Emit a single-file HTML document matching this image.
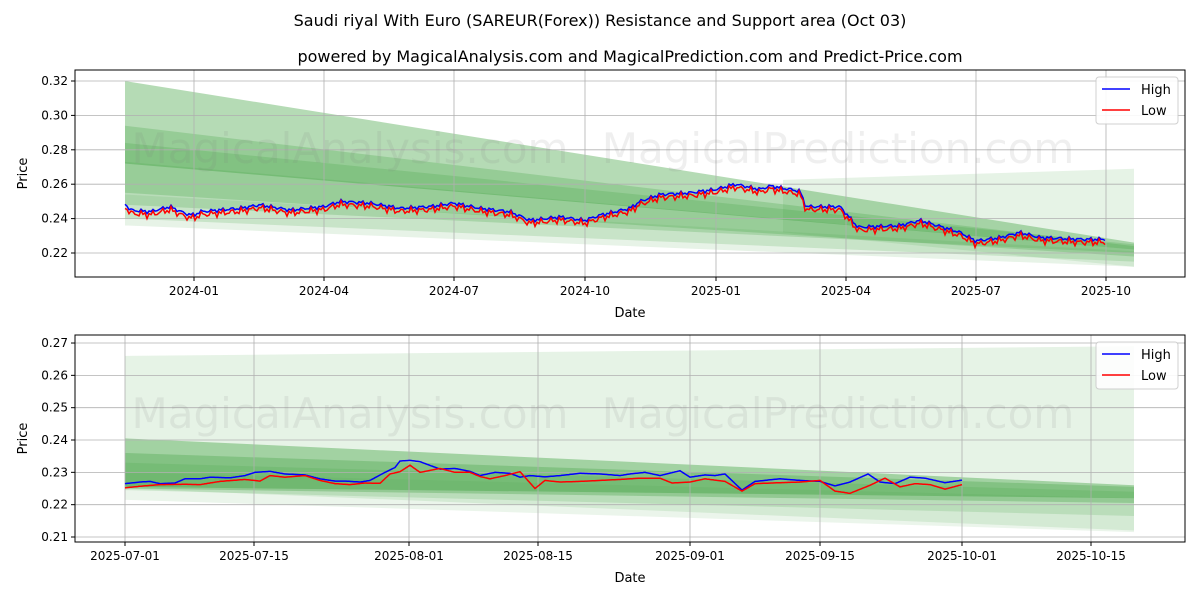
<!DOCTYPE html>
<html><head><meta charset="utf-8"><style>
body{margin:0;background:#fff;}
svg{display:block;font-family:"DejaVu Sans","Liberation Sans",sans-serif;}
</style></head><body>
<svg id="s" width="1200" height="600" xmlns="http://www.w3.org/2000/svg">
<rect width="1200" height="600" fill="#fff"/>
<text x="600" y="26" font-size="16" text-anchor="middle">Saudi riyal With Euro (SAREUR(Forex)) Resistance and Support area (Oct 03)</text>
<text x="630" y="62" font-size="16" text-anchor="middle">powered by MagicalAnalysis.com and MagicalPrediction.com and Predict-Price.com</text>
<g id="g"></g>
</svg>
<script>
const NS="http://www.w3.org/2000/svg",g=document.getElementById('g');
function el(t,a,txt){const e=document.createElementNS(NS,t);for(const k in a)e.setAttribute(k,a[k]);if(txt!==undefined)e.textContent=txt;g.appendChild(e);return e;}
function interp(pts,x){for(let i=0;i<pts.length-1;i++){if(x>=pts[i][0]&&x<=pts[i+1][0]){const t=(x-pts[i][0])/(pts[i+1][0]-pts[i][0]);return pts[i][1]+t*(pts[i+1][1]-pts[i][1]);}}return pts[pts.length-1][1];}
function chart(o){
 const Y=v=>o.y0-(v-o.v0)*o.k;
 o.bands.forEach(b=>{const[x1,x2,a,bb,c,d,al]=b;el('polygon',{points:`${x1},${Y(a)} ${x2},${Y(c)} ${x2},${Y(d)} ${x1},${Y(bb)}`,fill:`rgba(60,160,60,${al})`});});
 o.xt.forEach(t=>{el('line',{x1:t[0],x2:t[0],y1:o.top,y2:o.bot,stroke:'#b0b0b0','stroke-width':0.8});el('line',{x1:t[0],x2:t[0],y1:o.bot,y2:o.bot+4,stroke:'#000'});el('text',{x:t[0],y:o.bot+18,'font-size':12,'text-anchor':'middle'},t[1]);});
 o.yt.forEach(v=>{const y=Y(v);el('line',{x1:o.l,x2:o.r,y1:y,y2:y,stroke:'#b0b0b0','stroke-width':0.8});el('line',{x1:o.l-4,x2:o.l,y1:y,y2:y,stroke:'#000'});el('text',{x:o.l-7,y:y+4,'font-size':12,'text-anchor':'end'},v.toFixed(o.dec));});
 el('text',{x:350,y:o.top+93,'font-size':42,fill:'rgba(120,120,120,0.12)','text-anchor':'middle'},'MagicalAnalysis.com');
 el('text',{x:838,y:o.top+93,'font-size':42,fill:'rgba(120,120,120,0.12)','text-anchor':'middle'},'MagicalPrediction.com');
 const step=o.step;
 [[o.hi,'#0000ff'],[o.lo,'#ff0000']].forEach(([pts,col],j)=>{let p=[];for(let x=pts[0][0];x<=pts[pts.length-1][0];x+=step){let v=interp(pts,x);if(o.noise){v+=(Math.sin(x*1.7)+Math.sin(x*0.63))*o.noise*(j?1.3:0.7);}p.push(x.toFixed(1)+','+Y(v).toFixed(1));}el('polyline',{points:p.join(' '),fill:'none',stroke:col,'stroke-width':1.5});});
 el('rect',{x:o.l,y:o.top,width:o.r-o.l,height:o.bot-o.top,fill:'none',stroke:'#000','stroke-width':1});
 el('text',{x:(o.l+o.r)/2,y:o.bot+40,'font-size':13,'text-anchor':'middle'},'Date');
 el('text',{x:27,y:(o.top+o.bot)/2,'font-size':13,'text-anchor':'middle',transform:`rotate(-90 27 ${(o.top+o.bot)/2})`},'Price');
 const lx=o.r-89,ly=o.top+7;
 el('rect',{x:lx,y:ly,width:82,height:47,fill:'#fff',stroke:'#ccc',rx:3,opacity:0.9});
 el('line',{x1:lx+6,x2:lx+34,y1:ly+12,y2:ly+12,stroke:'#0000ff','stroke-width':1.6});
 el('text',{x:lx+45,y:ly+17,'font-size':13},'High');
 el('line',{x1:lx+6,x2:lx+34,y1:ly+33,y2:ly+33,stroke:'#ff0000','stroke-width':1.6});
 el('text',{x:lx+45,y:ly+38,'font-size':13},'Low');
}
const hiTop=[[125,.249],[130,.245],[150,.244],[170,.247],[185,.243],[194,.242],[200,.244],[240,.246],[260,.248],[290,.245],[324,.247],[340,.250],[370,.249],[400,.246],[430,.247],[454,.249],[480,.246],[510,.244],[530,.239],[560,.241],[585,.239],[600,.242],[630,.246],[640,.250],[660,.254],[690,.255],[716,.257],[735,.260],[760,.257],[770,.259],[800,.256],[806,.247],[840,.247],[858,.235],[900,.236],[920,.239],[960,.232],[976,.227],[1000,.229],[1020,.232],[1040,.229],[1080,.228],[1106,.228]];
const loTop=hiTop.map(p=>[p[0],p[1]-0.0018]);
chart({l:75,r:1185,top:70,bot:277,y0:253,v0:.22,k:1720,dec:2,step:2,noise:0.0009,
 yt:[.22,.24,.26,.28,.30,.32],
 xt:[[194,'2024-01'],[324,'2024-04'],[454,'2024-07'],[585,'2024-10'],[716,'2025-01'],[846,'2025-04'],[976,'2025-07'],[1106,'2025-10']],
 bands:[[783,1134,.2625,.232,.269,.212,0.13],[125,1134,.320,.272,.226,.222,0.38],[125,1134,.294,.255,.224,.218,0.25],[125,1134,.284,.248,.225,.220,0.22],[125,1134,.273,.240,.222,.215,0.18],[125,1134,.254,.236,.221,.212,0.12]],
 hi:hiTop,lo:loTop});
const hiB=[[125,.2265],[140,.227],[150,.2272],[160,.2265],[175,.2267],[185,.228],[200,.228],[210,.2285],[230,.2283],[245,.229],[255,.2300],[270,.2303],[285,.2295],[305,.2292],[320,.2280],[335,.2273],[345,.2273],[360,.2270],[370,.2275],[385,.2300],[395,.2315],[400,.2335],[410,.2337],[420,.2333],[440,.2310],[455,.2312],[470,.2303],[480,.2290],[495,.2300],[510,.2297],[520,.2285],[530,.2290],[545,.2286],[560,.2290],[580,.2297],[600,.2295],[620,.2290],[630,.2295],[645,.2300],[660,.2290],[680,.2305],[690,.2285],[705,.2292],[715,.2290],[725,.2295],[742,.2245],[755,.2272],[780,.2280],[800,.2275],[820,.2272],[835,.2258],[850,.2270],[868,.2295],[880,.2270],[895,.2265],[910,.2285],[925,.2282],[945,.2268],[962,.2276]];
const loB=[[125,.2252],[140,.2257],[160,.2262],[185,.2263],[200,.2262],[220,.2272],[245,.2278],[260,.2273],[270,.2290],[285,.2285],[305,.2290],[320,.2275],[335,.2265],[350,.2262],[365,.2267],[380,.2266],[390,.2295],[400,.2302],[410,.2322],[420,.2300],[440,.2312],[455,.2300],[470,.2300],[480,.2287],[490,.2280],[505,.2290],[520,.2302],[535,.2250],[545,.2275],[560,.2270],[580,.2272],[600,.2275],[620,.2278],[640,.2282],[660,.2282],[672,.2267],[690,.2270],[705,.2280],[725,.2272],[742,.2242],[755,.2265],[780,.2268],[800,.2270],[820,.2275],[835,.2242],[850,.2235],[870,.2260],[885,.2282],[900,.2255],[915,.2265],[930,.2262],[945,.2248],[962,.2262]];
chart({l:75,r:1185,top:335,bot:542,y0:537,v0:.21,k:3233,dec:2,step:1,noise:0,
 yt:[.21,.22,.23,.24,.25,.26,.27],
 xt:[[125,'2025-07-01'],[254,'2025-07-15'],[409,'2025-08-01'],[538,'2025-08-15'],[690,'2025-09-01'],[820,'2025-09-15'],[962,'2025-10-01'],[1091,'2025-10-15']],
 bands:[[125,1134,.266,.225,.269,.212,0.13],[125,1134,.2405,.2255,.226,.222,0.4],[125,1134,.236,.225,.2255,.2205,0.3],[125,1134,.233,.2245,.224,.2165,0.17],[125,1134,.230,.2215,.222,.2115,0.1]],
 hi:hiB,lo:loB});
</script>
</body></html>
